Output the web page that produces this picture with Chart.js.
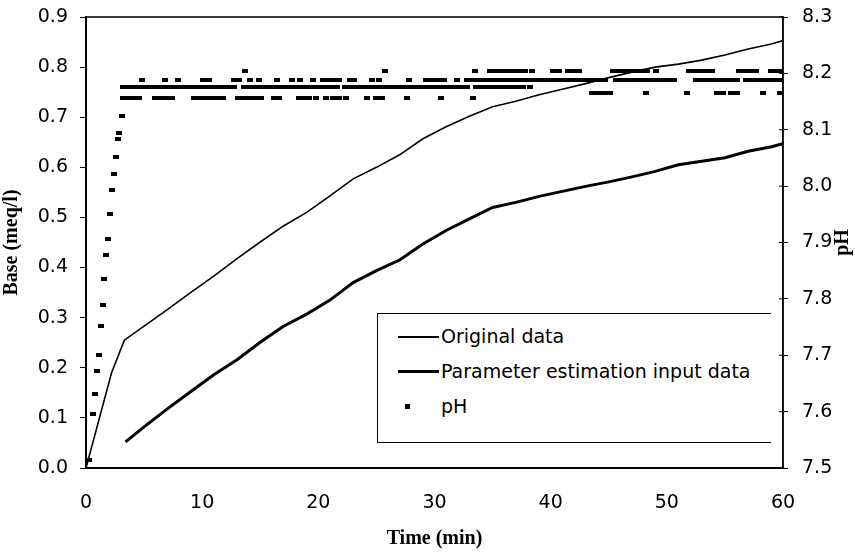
<!DOCTYPE html>
<html>
<head>
<meta charset="utf-8">
<script src="https://cdn.jsdelivr.net/npm/chart.js@4.4.1/dist/chart.umd.min.js"></script>
<style>
  body { margin: 0; background: #fff; }
  #wrap { position: relative; width: 855px; height: 555px; }
  #legendBox {
    position: absolute; left: 377px; top: 313px; width: 393px; height: 128px;
    border: 1px solid #000; border-right: none; background: #fff;
    font-family: 'DejaVu Sans', sans-serif; font-size: 19px; color: #000;
  }
  .row { position: absolute; left: 0; height: 24px; line-height: 24px; white-space: nowrap; }
  .sample { position: absolute; left: 20px; width: 41px; top: 50%; background: #000; }
  .txt { position: absolute; left: 63px; top: 0; }
</style>
</head>
<body>
<div id="wrap">
  <canvas id="chart" width="855" height="555"></canvas>
  <div id="legendBox">
    <div class="row" style="top:10px"><span class="sample" style="height:1.5px;margin-top:0"></span><span class="txt">Original data</span></div>
    <div class="row" style="top:45px"><span class="sample" style="height:3px;margin-top:-1px"></span><span class="txt">Parameter estimation input data</span></div>
    <div class="row" style="top:80px"><span class="sample" style="left:27px;width:5px;height:5px;margin-top:-2px"></span><span class="txt">pH</span></div>
  </div>
</div>
<script>
// Base added (meq/l) vs time (min)
const originalTime = [0, 2.2, 3.3, 5, 7, 9, 11, 13, 15, 17, 19, 21, 23, 25, 27, 29, 31, 33, 35, 37, 39, 41, 43, 45, 47, 49, 51, 53, 55, 57, 59, 60];
const originalBase = [0, 0.19, 0.255, 0.283, 0.316, 0.350, 0.383, 0.418, 0.451, 0.483, 0.510, 0.543, 0.577, 0.600, 0.625, 0.657, 0.681, 0.702, 0.721, 0.732, 0.745, 0.756, 0.767, 0.779, 0.790, 0.800, 0.806, 0.814, 0.824, 0.836, 0.846, 0.853];

const inputTime = [3.4, 5, 7, 9, 11, 13, 15, 17, 19, 21, 23, 25, 27, 29, 31, 33, 35, 37, 39, 41, 43, 45, 47, 49, 51, 53, 55, 57, 59, 60];
const inputBase = [0.052, 0.082, 0.118, 0.152, 0.186, 0.216, 0.251, 0.283, 0.307, 0.335, 0.370, 0.394, 0.415, 0.447, 0.474, 0.497, 0.520, 0.530, 0.542, 0.552, 0.562, 0.571, 0.581, 0.592, 0.605, 0.612, 0.619, 0.632, 0.641, 0.647];

// pH: the initial rise
const phRampTime = [0.29, 0.57, 0.80, 0.95, 1.09, 1.29, 1.43, 1.58, 1.72, 1.89, 2.07, 2.24, 2.44, 2.58, 2.73, 2.87, 3.07];
const phRampValue = [7.515, 7.595, 7.631, 7.672, 7.700, 7.752, 7.789, 7.836, 7.877, 7.907, 7.951, 7.993, 8.022, 8.052, 8.083, 8.095, 8.124];

// pH: the plateau, readings sit on a few discrete levels
const phLevels = [8.204, 8.189, 8.176, 8.166, 8.157];
const phLevelTimes = [
  [13.7, 25.7, 33.5, 34.8, 35.3, 35.8, 36.3, 36.8, 37.3, 37.8, 38.4, 40.2, 40.7, 41.5, 42.0, 42.4, 45.4, 45.9, 46.4, 46.9, 47.4, 47.9, 48.3, 49.1, 51.9, 52.4, 52.9, 53.4, 53.9, 56.2, 56.7, 57.2, 57.7, 59.0, 59.5, 59.9],
  [4.8, 6.8, 7.9, 10.1, 10.6, 12.7, 13.2, 14.1, 14.9, 16.4, 17.7, 18.4, 19.5, 20.4, 20.9, 21.3, 21.8, 22.7, 23.1, 24.6, 25.2, 27.8, 29.3, 29.8, 30.3, 30.8, 31.9, 32.8, 33.3, 33.8, 34.3, 34.8, 35.3, 35.8, 36.3, 36.8, 37.3, 37.8, 38.3, 38.8, 39.3, 39.8, 40.3, 40.8, 41.3, 41.8, 42.3, 42.8, 43.3, 43.8, 44.2, 44.7, 45.6, 46.1, 46.6, 47.1, 47.6, 48.1, 48.6, 49.1, 49.6, 50.1, 50.6, 52.5, 53.0, 53.5, 54.0, 54.5, 55.0, 55.5, 56.0, 56.8, 57.3, 57.8, 58.3, 58.8, 59.3, 59.8],
  [3.2, 3.7, 4.2, 4.7, 5.2, 5.7, 6.2, 6.7, 7.2, 7.7, 8.2, 8.7, 9.2, 9.7, 10.2, 10.7, 11.2, 11.7, 12.2, 12.7, 13.6, 14.1, 14.6, 15.1, 15.6, 16.1, 16.6, 17.1, 17.6, 18.1, 18.6, 19.1, 19.6, 20.1, 20.6, 21.1, 21.6, 22.3, 22.8, 23.3, 23.8, 24.3, 24.8, 25.3, 25.8, 26.3, 26.8, 27.3, 27.8, 28.3, 28.8, 29.3, 29.8, 30.3, 30.8, 31.3, 31.8, 32.3, 32.8, 33.6, 34.1, 34.6, 35.1, 35.6, 36.1, 36.6, 37.1, 37.6, 38.2],
  [43.6, 44.1, 44.6, 45.1, 48.2, 51.7, 54.3, 54.8, 55.5, 56.0, 58.3, 59.7],
  [3.2, 3.7, 4.2, 4.6, 5.9, 6.4, 6.9, 7.4, 9.3, 9.8, 10.3, 10.8, 11.3, 11.8, 13.1, 13.6, 14.1, 14.6, 15.1, 16.2, 16.6, 18.3, 18.8, 19.2, 19.8, 20.7, 21.3, 21.8, 22.4, 24.2, 25.0, 25.5, 27.6, 30.6, 33.3]
];

const timeTicks = { min: 0, max: 60, step: 10 };
const baseTicks = { min: 0, max: 0.9, step: 0.1 };
const phTicks = { min: 7.5, max: 8.3, step: 0.1 };

const toPoints = (xs, ys) => xs.map((x, i) => ({ x: x, y: ys[i] }));

const phPoints = toPoints(phRampTime, phRampValue);
phLevelTimes.forEach((times, i) => {
  times.forEach((t) => phPoints.push({ x: t, y: phLevels[i] }));
});

// short horizontal dash used as the pH marker
const dash = document.createElement('canvas');
dash.width = 6;
dash.height = 4;
const dctx = dash.getContext('2d');
dctx.fillStyle = '#000';
dctx.fillRect(0, 0, 6, 4);

const tickFont = { family: 'DejaVu Sans', size: 19 };
const titleFont = { family: 'Liberation Serif', size: 20, weight: 'bold' };

const frame = {
  id: 'frame',
  afterDraw(chart) {
    const { ctx, chartArea } = chart;
    const y1 = chart.scales.y1;
    ctx.save();
    ctx.strokeStyle = '#000';
    ctx.lineWidth = 1.5;
    ctx.strokeRect(chartArea.left, chartArea.top, chartArea.right - chartArea.left, chartArea.bottom - chartArea.top);
    // right axis ticks also reach a little inside
    ctx.lineWidth = 1;
    y1.ticks.forEach((t) => {
      const py = y1.getPixelForValue(t.value);
      ctx.beginPath();
      ctx.moveTo(chartArea.right - 4, py);
      ctx.lineTo(chartArea.right, py);
      ctx.stroke();
    });
    // secondary axis title
    ctx.translate(843, (chartArea.top + chartArea.bottom) / 2);
    ctx.rotate(-Math.PI / 2);
    ctx.font = 'bold 20px "Liberation Serif"';
    ctx.fillStyle = '#000';
    ctx.textAlign = 'center';
    ctx.textBaseline = 'middle';
    ctx.fillText('pH', 0, 0);
    ctx.restore();
  },
};

const noOverhang = (s) => {
  s.paddingTop = 0;
  s.paddingBottom = 0;
  s.paddingLeft = 0;
  s.paddingRight = 0;
};

new Chart(document.getElementById('chart'), {
  type: 'scatter',
  data: {
    datasets: [
      {
        label: 'Original data',
        data: toPoints(originalTime, originalBase),
        showLine: true,
        borderColor: '#000',
        borderWidth: 1.6,
        pointRadius: 0,
        yAxisID: 'y',
      },
      {
        label: 'Parameter estimation input data',
        data: toPoints(inputTime, inputBase),
        showLine: true,
        borderColor: '#000',
        borderWidth: 3,
        pointRadius: 0,
        yAxisID: 'y',
      },
      {
        label: 'pH',
        data: phPoints,
        showLine: false,
        pointStyle: dash,
        backgroundColor: '#000',
        borderColor: '#000',
        yAxisID: 'y1',
      },
    ],
  },
  options: {
    responsive: false,
    animation: false,
    layout: { padding: { top: 17, left: 0, right: 0, bottom: 0 } },
    plugins: { legend: { display: false }, tooltip: { enabled: false } },
    scales: {
      x: {
        type: 'linear',
        min: timeTicks.min,
        max: timeTicks.max,
        ticks: { stepSize: timeTicks.step, color: '#000', font: tickFont, padding: 24, maxRotation: 0 },
        grid: { drawOnChartArea: false, drawTicks: true, tickLength: 0, color: '#000' },
        border: { display: true, color: '#000', width: 2 },
        title: { display: true, text: 'Time (min)', color: '#000', font: titleFont, padding: { top: 4 } },
        afterFit: (s) => { noOverhang(s); s.height = 87; },
      },
      y: {
        position: 'left',
        min: baseTicks.min,
        max: baseTicks.max,
        ticks: { stepSize: baseTicks.step, color: '#000', font: tickFont, padding: 12, callback: (v) => v.toFixed(1) },
        grid: { drawOnChartArea: false, drawTicks: true, tickLength: 6, color: '#000' },
        border: { display: true, color: '#000', width: 2 },
        title: { display: true, text: 'Base (meq/l)', color: '#000', font: titleFont, padding: 0 },
        afterFit: (s) => { noOverhang(s); s.width = 86; },
      },
      y1: {
        position: 'right',
        min: phTicks.min,
        max: phTicks.max,
        ticks: { stepSize: phTicks.step, color: '#000', font: tickFont, padding: 14, callback: (v) => v.toFixed(1) },
        grid: { drawOnChartArea: false, drawTicks: true, tickLength: 5, color: '#000' },
        border: { display: true, color: '#000', width: 1.5 },
        afterFit: (s) => { noOverhang(s); s.width = 72; },
      },
    },
  },
  plugins: [frame],
});
</script>
</body>
</html>
